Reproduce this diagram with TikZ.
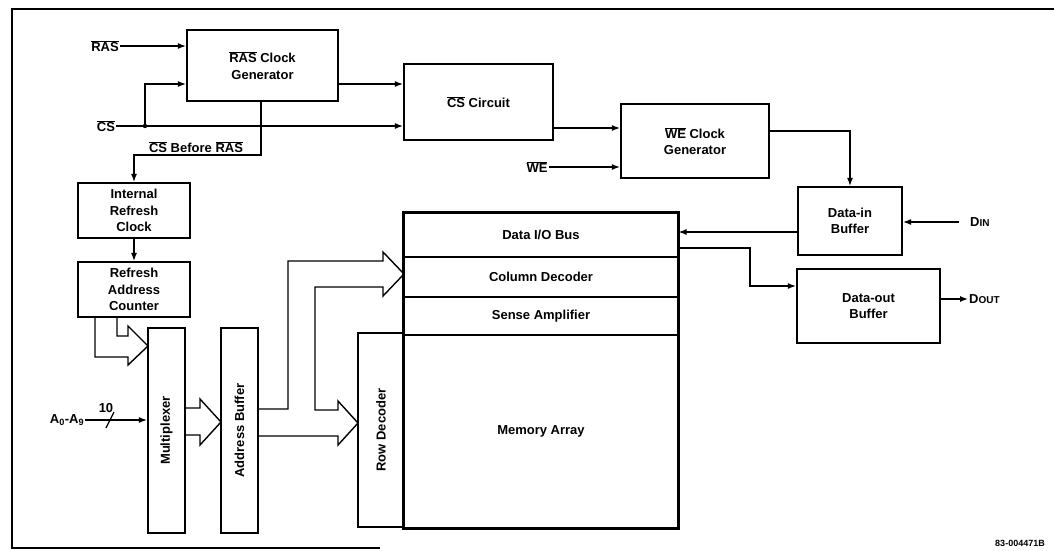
\documentclass[tikz,border=0pt]{standalone}
\usepackage{fontspec}
\setmainfont{Liberation Sans}
\usetikzlibrary{arrows.meta, positioning, calc}
\newcommand{\ovl}[1]{$\overline{\mbox{#1}}$}
\newcommand{\blkfont}{\fontsize{13}{16.5}\selectfont\bfseries}
\newcommand{\smcaps}[1]{{\fontsize{10}{10}\selectfont #1}}

\begin{document}
\begin{tikzpicture}[x=1pt, y=-1pt, >=Latex,
    blk/.style={draw, line width=2.2pt, font=\blkfont, align=center, inner sep=0pt},
    band/.style={draw, line width=1.1pt, font=\blkfont, inner sep=0pt, minimum width=274},
    sig/.style={line width=1.2pt, -{Latex[length=8pt, width=6pt]}},
    wire/.style={line width=1.2pt},
    fat/.style={line width=1.4pt, line join=miter},
    pin/.style={font=\blkfont, inner sep=1pt}]
  \useasboundingbox (0,0) rectangle (1054,550);
  \draw[line width=1.5pt] (1054,9) -- (12,9) -- (12,548) -- (380,548);

  \node[blk, minimum width=151, minimum height=71] (rasgen) at (262.5,65.5) {\ovl{RAS} Clock\\Generator};
  \node[blk, minimum width=149, minimum height=76] (cscirc) at (478.5,102) {\ovl{CS} Circuit};
  \node[blk, minimum width=148, minimum height=74] (wegen) at (695,141) {\ovl{WE} Clock\\Generator};
  \node[blk, minimum width=112, minimum height=55] (irc) at (134,210.5) {Internal\\Refresh\\Clock};
  \node[blk, minimum width=112, minimum height=55] (rac) at (134,289.5) {Refresh\\Address\\Counter};
  \node[blk, minimum width=37, minimum height=205] (mux) at (166.5,430.5) {};
  \node[font=\blkfont, rotate=90] at (mux) {Multiplexer};
  \node[blk, minimum width=37, minimum height=205] (abuf) at (239.5,430.5) {};
  \node[font=\blkfont, rotate=90] at (abuf) {Address Buffer};
  \node[blk, minimum width=46, minimum height=194] (rowdec) at (381,430) {};
  \node[font=\blkfont, rotate=90] at (rowdec) {Row Decoder};
  \node[band, minimum height=44] (dio) at (541,235) {Data I/O Bus};
  \node[band, minimum height=40] (coldec) at (541,277) {Column Decoder};
  \node[band, minimum height=38] (sense) at (541,316) {Sense Amplifier};
  \node[band, minimum height=193] (array) at (541,431.5) {Memory Array};
  \draw[line width=2.2pt] (dio.north west) rectangle (array.south east);
  \node[blk, minimum width=104, minimum height=68] (dinbuf) at (850,221) {Data-in\\Buffer};
  \node[blk, minimum width=143, minimum height=74] (doutbuf) at (868.5,306) {Data-out\\Buffer};

  \node[pin] (raslbl) at (105,46) {\ovl{RAS}};
  \node[pin] (cslbl) at (106,126) {\ovl{CS}};
  \node[pin] (welbl) at (537,167) {\ovl{WE}};
  \node[pin] (alab) at (67,420) {A\textsubscript{0}-A\textsubscript{9}};
  \node[pin, anchor=west] (dinlbl) at (969,222) {D\smcaps{IN}};
  \node[pin, anchor=west] (doutlbl) at (968,299) {D\smcaps{OUT}};
  \node[pin] (cbr) at (196,147) {\ovl{CS} Before \ovl{RAS}};
  \node[pin] (width) at (106,408) {10};
  \node[font=\fontsize{9}{10}\selectfont\bfseries] (figno) at (1020,543) {83-004471B};

  \coordinate (jn) at (145,126);
  \draw[sig] (raslbl) -- (rasgen.west |- raslbl);
  \draw[sig] (cslbl) -- (cscirc.west |- cslbl);
  \fill (jn) circle (2.2pt);
  \draw[sig] (jn) |- (rasgen.west |- 0,84);
  \draw[sig] (rasgen.east |- 0,84) -- (cscirc.west |- 0,84);
  \draw[sig] (rasgen.south -| 261,0) |- (irc.north |- 0,155) -- (irc.north);
  \draw[sig] (irc) -- (rac);
  \draw[sig] (cscirc.east |- 0,128) -- (wegen.west |- 0,128);
  \draw[sig] (welbl) -- (wegen.west |- welbl);
  \draw[sig] (wegen.east |- 0,131) -| (dinbuf.north);
  \draw[sig] (dinbuf.west |- 0,232) -- (dio.east |- 0,232);
  \draw[sig] ([xshift=-10pt]dinlbl.west) -- (dinbuf.east |- dinlbl);
  \draw[sig] (dio.east |- 0,248) -| (750,286) -- (doutbuf.west |- 0,286);
  \draw[sig] (doutbuf.east |- doutlbl) -- (doutlbl.west);
  \draw[sig] (alab) -- (mux.west |- alab);
  \draw[wire] (106,428) -- (114,412);

  \draw[fat] (95,317) -- (95,357) -- (128,357) -- (128,365) -- (148,346) -- (128,326) -- (128,336) -- (117,336) -- (117,317);
  \draw[fat] (185,408) -- (200,408) -- (200,399) -- (221,422) -- (200,445) -- (200,435) -- (185,435);
  \draw[fat] (258,409) -- (288,409) -- (288,261) -- (383,261) -- (383,252) -- (404,274) -- (383,296) -- (383,287)
    -- (315,287) -- (315,410) -- (338,410) -- (338,401) -- (358,423) -- (338,445) -- (338,436) -- (258,436);
\end{tikzpicture}
\end{document}
